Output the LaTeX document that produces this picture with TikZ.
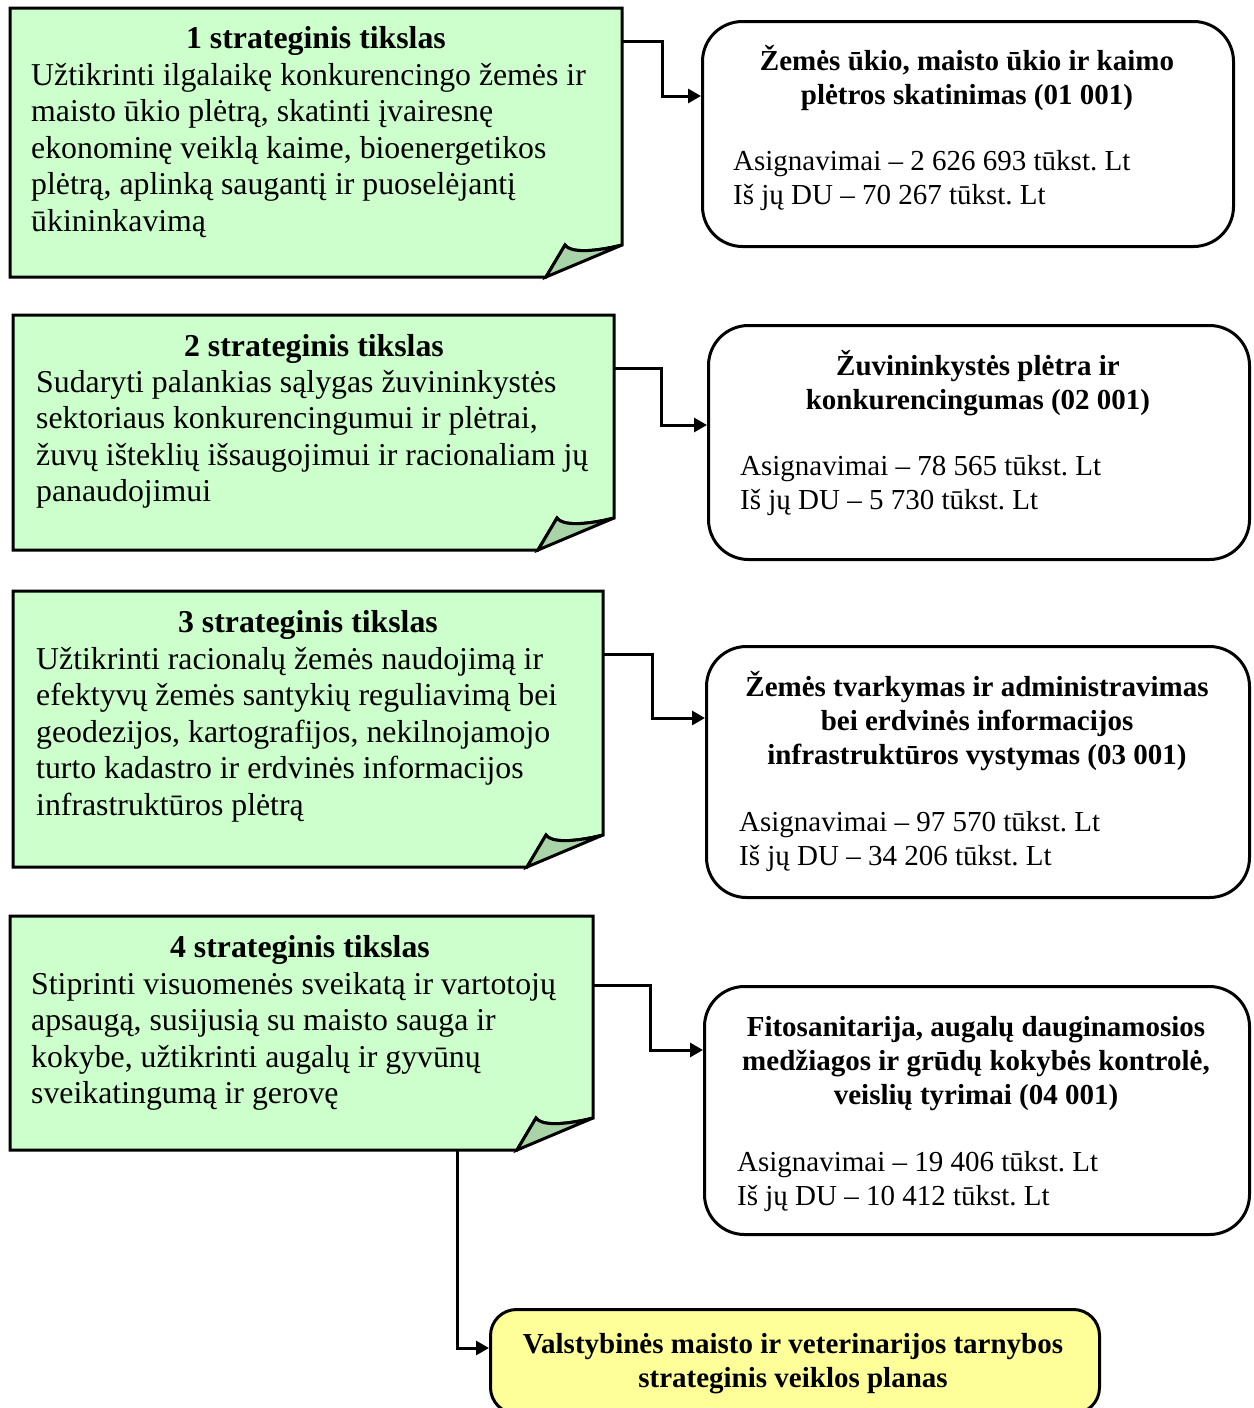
\documentclass[tikz,border=0pt]{standalone}
\usepackage{fontspec}
\setmainfont{Liberation Serif}
\usetikzlibrary{arrows.meta,calc}
\definecolor{notegreen}{HTML}{CCFFCC}
\definecolor{folddark}{HTML}{A8D4A8}
\definecolor{planyellow}{HTML}{FFFF99}
\newcommand{\notebox}[1]{%
  \filldraw[fill=notegreen, line width=3pt]
    (#1.north west) -- (#1.north east) -- ($(#1.south east)+(0,-32)$)
    .. controls ($(#1.south east)+(-28,-25)$) and ($(#1.south east)+(-52,-24)$) ..
    ($(#1.south east)+(-57,-32)$) -- ($(#1.south east)+(-76,0)$) -- (#1.south west) -- cycle;
  \filldraw[fill=folddark, line width=3pt]
    ($(#1.south east)+(-76,0)$) -- ($(#1.south east)+(0,-32)$)
    .. controls ($(#1.south east)+(-28,-25)$) and ($(#1.south east)+(-52,-24)$) ..
    ($(#1.south east)+(-57,-32)$) -- cycle;
}
\frenchspacing
\begin{document}
\begin{tikzpicture}[x=1pt,y=-1pt,
  frame/.style={inner sep=0pt, outer sep=0pt, anchor=north west, draw=none},
  rbox/.style={draw, line width=3pt, rounded corners=40pt, fill=white, inner sep=0pt, anchor=north west},
  ybox/.style={draw, line width=3pt, rounded corners=26pt, fill=planyellow, inner sep=0pt, anchor=north west},
  ltxt/.style={inner sep=0pt, font=\fontsize{31.8}{36.5}\selectfont, align=left, anchor=base west},
  ttl/.style={inner sep=0pt, font=\fontsize{31.8}{36.5}\selectfont\bfseries, anchor=base},
  rttl/.style={inner sep=0pt, font=\fontsize{29}{34}\selectfont\bfseries, align=center, anchor=base},
  rtxt/.style={inner sep=0pt, font=\fontsize{29}{34}\selectfont, align=left, anchor=base west},
  conn/.style={line width=3pt, -{Triangle[length=13pt,width=14pt]}}]
\path[use as bounding box, clip] (0,0) rectangle (1253,1408);

% left note frames
\node[frame, minimum width=612pt, minimum height=269pt] (g1) at (10,8) {};
\node[frame, minimum width=601pt, minimum height=235pt] (g2) at (13,315) {};
\node[frame, minimum width=590pt, minimum height=276pt] (g3) at (13,591) {};
\node[frame, minimum width=583pt, minimum height=234pt] (g4) at (10,916) {};
\notebox{g1}
\notebox{g2}
\notebox{g3}
\notebox{g4}

% right boxes
\node[rbox, minimum width=531pt, minimum height=225pt] (r1) at (701,20) {};
\node[rbox, minimum width=541pt, minimum height=234pt] (r2) at (707,324) {};
\node[rbox, minimum width=543pt, minimum height=251pt] (r3) at (705,645) {};
\node[rbox, minimum width=545pt, minimum height=248pt] (r4) at (703,985) {};
\node[ybox, minimum width=609pt, minimum height=104pt] (pl) at (489,1308) {};

% texts left (base anchor = last line baseline)
\node[ttl] (t1h) at (316,48) {1 strateginis tikslas};
\node[ltxt] (t1b) at (31,231) {Užtikrinti ilgalaikę konkurencingo žemės ir\\maisto ūkio plėtrą, skatinti įvairesnę\\ekonominę veiklą kaime, bioenergetikos\\plėtrą, aplinką saugantį ir puoselėjantį\\ūkininkavimą};
\node[ttl] (t2h) at (314,356) {2 strateginis tikslas};
\node[ltxt] (t2b) at (36,501.5) {Sudaryti palankias sąlygas žuvininkystės\\sektoriaus konkurencingumui ir plėtrai,\\žuvų išteklių išsaugojimui ir racionaliam jų\\panaudojimui};
\node[ttl] (t3h) at (308,632) {3 strateginis tikslas};
\node[ltxt] (t3b) at (36,815) {Užtikrinti racionalų žemės naudojimą ir\\efektyvų žemės santykių reguliavimą bei\\geodezijos, kartografijos, nekilnojamojo\\turto kadastro ir erdvinės informacijos\\infrastruktūros plėtrą};
\node[ttl] (t4h) at (300,957) {4 strateginis tikslas};
\node[ltxt] (t4b) at (31,1103.5) {Stiprinti visuomenės sveikatą ir vartotojų\\apsaugą, susijusią su maisto sauga ir\\kokybe, užtikrinti augalų ir gyvūnų\\sveikatingumą ir gerovę};

% texts right
\node[rttl] (r1h) at (967,104) {Žemės ūkio, maisto ūkio ir kaimo\\plėtros skatinimas (01 001)};
\node[rtxt] (r1b) at (733,204) {Asignavimai – 2 626 693 tūkst. Lt\\Iš jų DU – 70 267 tūkst. Lt};
\node[rttl] (r2h) at (978,409) {Žuvininkystės plėtra ir\\konkurencingumas (02 001)};
\node[rtxt] (r2b) at (740,509) {Asignavimai – 78 565 tūkst. Lt\\Iš jų DU – 5 730 tūkst. Lt};
\node[rttl] (r3h) at (977,764) {Žemės tvarkymas ir administravimas\\bei erdvinės informacijos\\infrastruktūros vystymas (03 001)};
\node[rtxt] (r3b) at (739,865) {Asignavimai – 97 570 tūkst. Lt\\Iš jų DU – 34 206 tūkst. Lt};
\node[rttl] (r4h) at (976,1104) {Fitosanitarija, augalų dauginamosios\\medžiagos ir grūdų kokybės kontrolė,\\veislių tyrimai (04 001)};
\node[rtxt] (r4b) at (737,1205) {Asignavimai – 19 406 tūkst. Lt\\Iš jų DU – 10 412 tūkst. Lt};
\node[rttl] (plh) at (793,1387) {Valstybinės maisto ir veterinarijos tarnybos\\strateginis veiklos planas};

% connectors
\draw[conn] ($(g1.north east)+(0,33)$) -- ++(40,0) |- ($(r1.north west)+(0,76)$);
\draw[conn] ($(g2.north east)+(0,53)$) -- ++(47,0) |- ($(r2.north west)+(0,101)$);
\draw[conn] ($(g3.north east)+(0,63)$) -- ++(49,0) |- ($(r3.north west)+(0,73)$);
\draw[conn] ($(g4.north east)+(0,69)$) -- ++(57,0) |- ($(r4.north west)+(0,65)$);
\draw[conn] ($(g4.south west)+(447,0)$) |- ($(pl.north west)+(0,40)$);
\end{tikzpicture}
\end{document}
